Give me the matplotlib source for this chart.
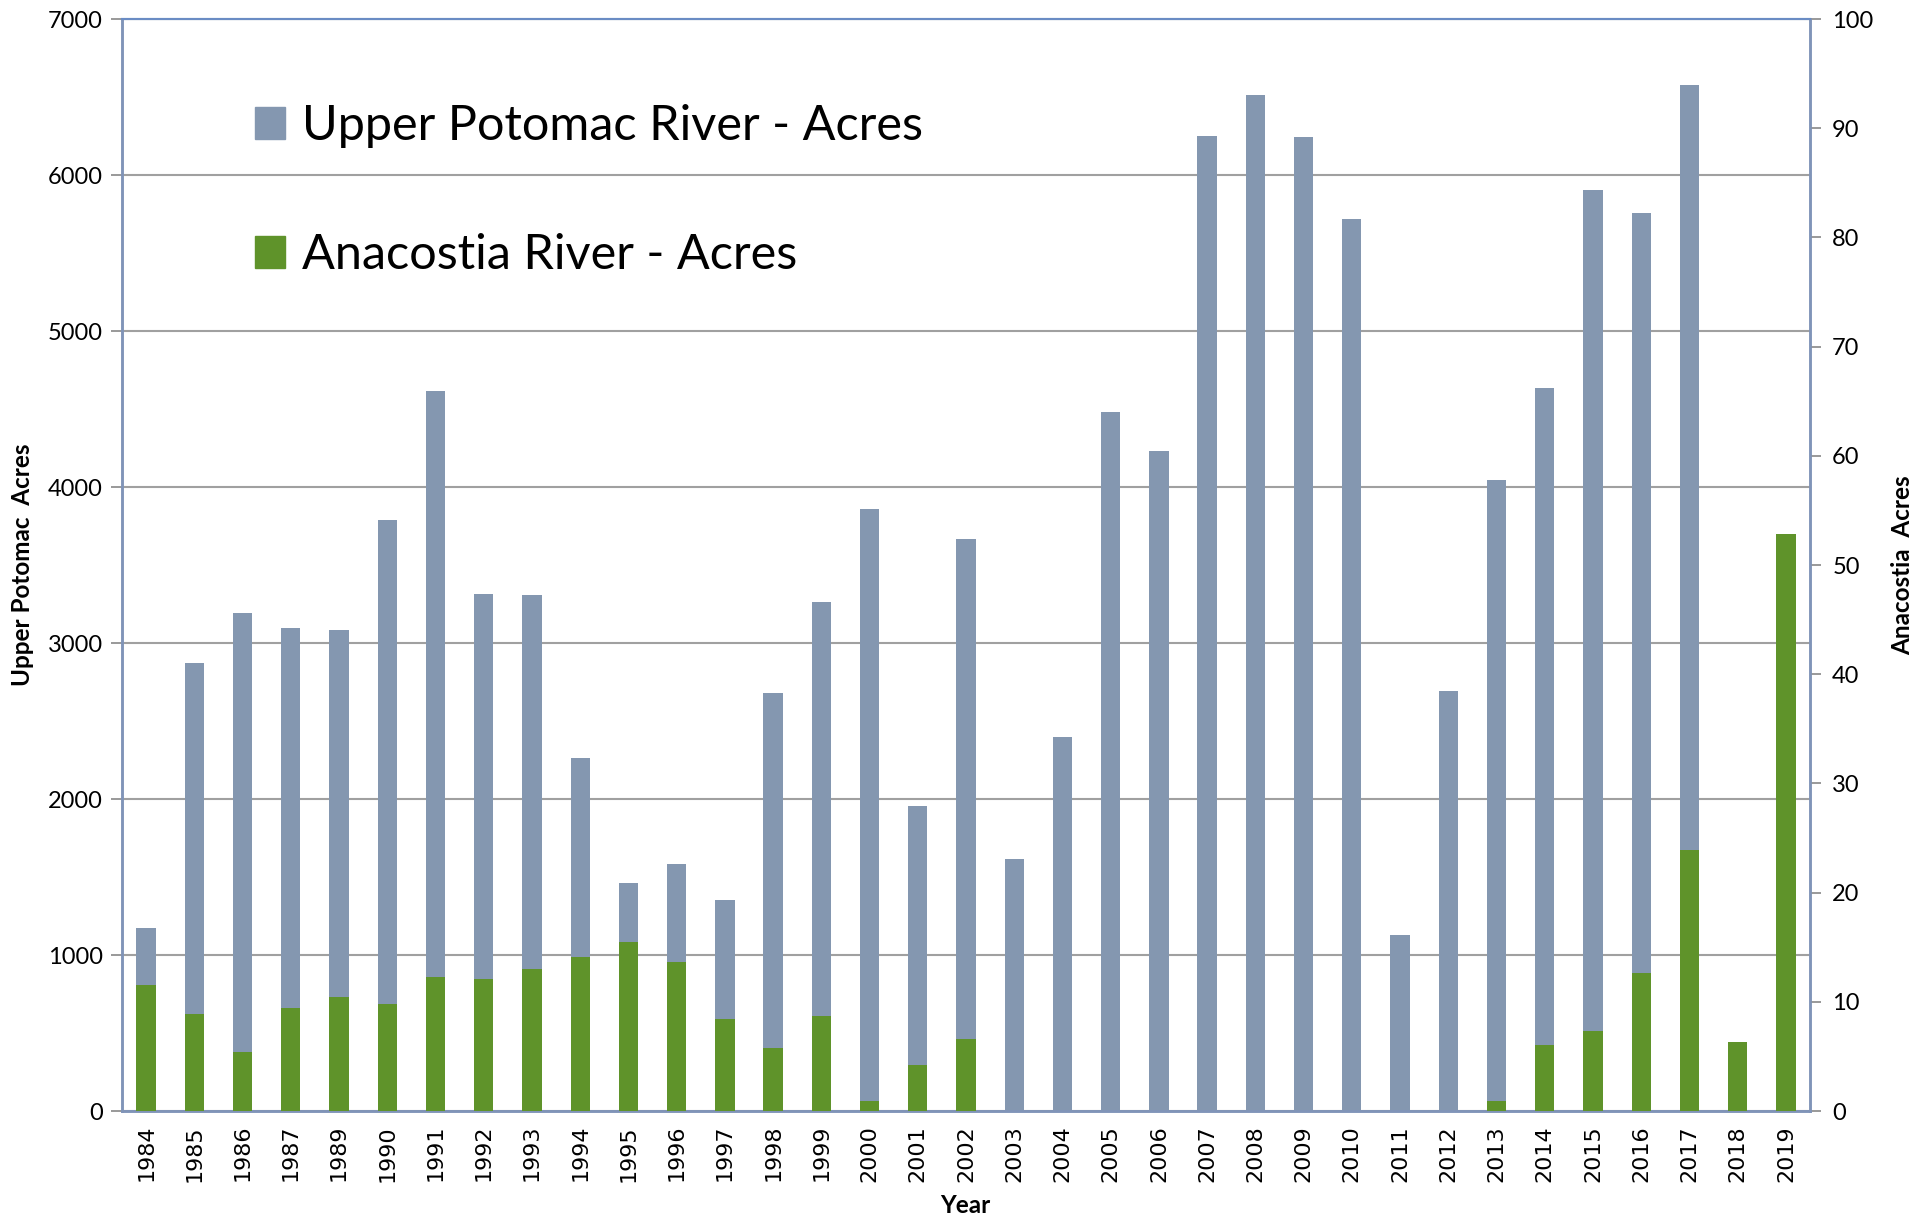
import numpy as np
import matplotlib.pyplot as plt
from matplotlib.patches import Patch

plt.rcParams['font.family'] = ['Lato', 'DejaVu Sans']

# veriler
years = ['1984', '1985', '1986', '1987', '1989', '1990', '1991', '1992', '1993',
         '1994', '1995', '1996', '1997', '1998', '1999', '2000', '2001', '2002',
         '2003', '2004', '2005', '2006', '2007', '2008', '2009', '2010', '2011',
         '2012', '2013', '2014', '2015', '2016', '2017', '2018', '2019']
potomac = [1170, 2870, 3195, 3093, 3085, 3790, 4615, 3312, 3305,
           2263, 1464, 1582, 1355, 2678, 3265, 3860, 1958, 3665,
           1613, 2396, 4479, 4229, 6249, 6515, 6241, 5716, 1128,
           2694, 4048, 4636, 5904, 5756, 6578, 0, 0]
anacostia = [11.5, 8.9, 5.4, 9.4, 10.4, 9.8, 12.3, 12.1, 13.0,
             14.1, 15.5, 13.6, 8.4, 5.8, 8.7, 0.9, 4.2, 6.6,
             0, 0, 0, 0, 0, 0, 0, 0, 0,
             0, 0.9, 6.0, 7.3, 12.6, 23.9, 6.3, 52.8]

blue = '#8497B0'
green = '#5F932A'
spine_c = '#8094B8'

fig = plt.figure(figsize=(19.16, 12.16), dpi=100)
ax = fig.add_axes([122/1916, 1 - 1111/1216, (1810-122)/1916, (1111-19)/1216])
x = np.arange(len(years))

ax.bar(x, potomac, width=0.4, color=blue, zorder=2)
ax.set_ylim(0, 7000)
ax.set_xlim(-0.5, len(years) - 0.5)
ax.set_yticks(range(0, 7001, 1000))
ax.yaxis.grid(True, color='#A0A0A0', linewidth=1.5, zorder=0)
ax.set_axisbelow(True)
ax.set_xticks(x)
ax.set_xticklabels(years, rotation=90, fontsize=16, family='DejaVu Sans')
ax.tick_params(axis='x', length=0, pad=10)
ax.tick_params(axis='y', labelsize=17, length=8, width=1.2, color='#888888', pad=6)

# sağ eksen - Anacostia
ax2 = ax.twinx()
ax2.bar(x, anacostia, width=0.4, color=green, zorder=3)
ax2.set_ylim(0, 100)
ax2.set_yticks(range(0, 101, 10))
ax2.tick_params(axis='y', labelsize=17, length=8, width=1.2, color='#888888', pad=8)

for a in (ax, ax2):
    for s in ('left', 'right', 'bottom'):
        a.spines[s].set_color(spine_c)
        a.spines[s].set_linewidth(1.8)
    a.spines['top'].set_color('#6A8CC4')
    a.spines['top'].set_linewidth(1.5)

ax.set_ylabel('Upper Potomac  Acres', fontsize=17.5, fontweight='bold')
ax.yaxis.set_label_coords(-0.052, 0.5)
ax2.set_ylabel('Anacostia  Acres', fontsize=17.5, fontweight='bold')
ax2.yaxis.set_label_coords(1.048, 0.50)
ax.set_xlabel('Year', fontsize=17.5, fontweight='bold')
ax.xaxis.set_label_coords(0.4994, -0.076)

handles = [Patch(color=blue), Patch(color=green)]
fig.legend(handles, ['Upper Potomac River - Acres', 'Anacostia River - Acres'],
           loc='upper left', bbox_to_anchor=(255/1916, 1 - 104/1216),
           frameon=False, fontsize=35, handlelength=0.62, handleheight=0.62,
           handletextpad=0.35, labelspacing=1.75, borderpad=0, borderaxespad=0)

plt.savefig('out.png', dpi=100)
